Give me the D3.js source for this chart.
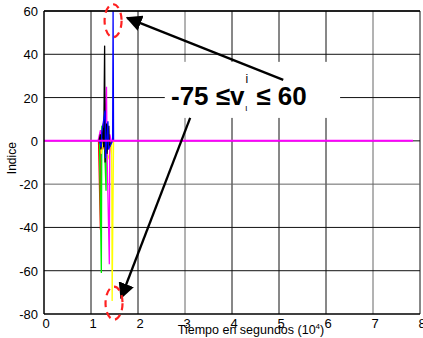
<!DOCTYPE html>
<html>
<head>
<meta charset="utf-8">
<script src="https://cdn.jsdelivr.net/npm/d3@7"></script>
<style>
  body { margin: 0; background: white; }
  svg { display: block; font-family: "Liberation Sans", Arial, sans-serif; }
</style>
</head>
<body>
<script>
var xTicks = [0, 1, 2, 3, 4, 5, 6, 7, 8];
var yTicks = [-80, -60, -40, -20, 0, 20, 40, 60];

// each series: time (10^4 s) and index value
var blackT = [1.17, 1.2, 1.21, 1.26, 1.27, 1.29, 1.3, 1.33, 1.34, 1.38, 1.39, 1.44];
var blackV = [0, 3, -4, 6, -3, 44, -10, 8, -6, 7, -3, 0];
var blueT = [1.18, 1.22, 1.23, 1.3, 1.31, 1.36, 1.37, 1.46, 1.47, 1.48];
var blueV = [0, -3, 4, 14, -8, 9, -4, 0, 60, 0];
var magentaT = [1.15, 1.2, 1.21, 1.26, 1.27, 1.33, 1.34, 1.39, 1.4, 1.43];
var magentaV = [0, 5, -3, 8, -2, 25, -4, -57, 3, 0];
var greenT = [1.18, 1.22, 1.23, 1.28, 1.32, 1.33, 1.38, 1.42];
var greenV = [0, -61, 7, 3, -23, 5, -3, 0];
var redT = [1.16, 1.2, 1.21, 1.25, 1.3, 1.35];
var redV = [0, -41, 5, -4, 3, 0];
var yellowT = [1.16, 1.2, 1.22, 1.27, 1.3, 1.38, 1.44, 1.45, 1.48];
var yellowV = [0, 4, -6, 3, -4, -8, 0, -74, 0];
var cyanT = [1.2, 1.25, 1.3, 1.35, 1.4];
var cyanV = [0, 3, -5, 4, 0];

var zeroT = [0, 7.85];
var zeroV = [0, 0];

var series = [
	{t: cyanT, v: cyanV, color: "#00e0e0"},
	{t: redT, v: redV, color: "#ff0000"},
	{t: greenT, v: greenV, color: "#00ee00"},
	{t: yellowT, v: yellowV, color: "#ffff00"},
	{t: magentaT, v: magentaV, color: "#ff00ff"},
	{t: blackT, v: blackV, color: "#000000"},
	{t: blueT, v: blueV, color: "#0000ff"}
];

var width = 423, height = 338;
var margin = {left: 44, right: 3, top: 11, bottom: 24};

var svg = d3.select("body").append("svg")
	.attr("width", width)
	.attr("height", height);

var x = d3.scaleLinear().domain([0, 8]).range([margin.left, width - margin.right]);
var y = d3.scaleLinear().domain([-80, 60]).range([height - margin.bottom, margin.top]);

// grid
var grid = svg.append("g").attr("class", "grid");
grid.selectAll(".vgrid")
	.data(xTicks.slice(1))
	.enter().append("line")
	.attr("x1", d => x(d)).attr("x2", d => x(d))
	.attr("y1", y(60)).attr("y2", y(-80))
	.attr("stroke", d => (d == 3 || d == 7) ? "#666" : "#111")
	.attr("stroke-width", 1);
grid.selectAll(".hgrid")
	.data(yTicks.slice(1))
	.enter().append("line")
	.attr("x1", x(0)).attr("x2", x(8))
	.attr("y1", d => y(d)).attr("y2", d => y(d))
	.attr("stroke", d => d == -20 ? "#666" : "#111")
	.attr("stroke-width", 1);

// data lines
var line = d3.line()
	.x(d => x(d[0]))
	.y(d => y(d[1]));

svg.append("g").selectAll("path")
	.data(series)
	.enter().append("path")
	.attr("d", s => line(s.t.map((t, i) => [t, s.v[i]])))
	.attr("fill", "none")
	.attr("stroke", s => s.color)
	.attr("stroke-width", 1.3);

svg.append("path")
	.attr("d", line(zeroT.map((t, i) => [t, zeroV[i]])))
	.attr("fill", "none")
	.attr("stroke", "#ff00ff")
	.attr("stroke-width", 2);

// axes frame
svg.append("line")
	.attr("x1", x(0)).attr("x2", x(0)).attr("y1", y(60)).attr("y2", y(-80))
	.attr("stroke", "black").attr("stroke-width", 1.5);
svg.append("line")
	.attr("x1", x(0)).attr("x2", x(8)).attr("y1", y(-80)).attr("y2", y(-80))
	.attr("stroke", "black").attr("stroke-width", 1.5);
svg.append("line")
	.attr("x1", x(0)).attr("x2", x(8)).attr("y1", y(60)).attr("y2", y(60))
	.attr("stroke", "black").attr("stroke-width", 1.5);

// tick labels
svg.append("g").selectAll("text")
	.data(xTicks)
	.enter().append("text")
	.attr("x", d => x(d) + 2)
	.attr("y", y(-80) + 14)
	.attr("text-anchor", "middle")
	.attr("font-size", 13)
	.text(d => d);
svg.append("g").selectAll("text")
	.data(yTicks)
	.enter().append("text")
	.attr("x", x(0) - 6)
	.attr("y", d => y(d) + 5)
	.attr("text-anchor", "end")
	.attr("font-size", 13)
	.text(d => d);

// axis titles
svg.append("text")
	.attr("transform", "translate(16," + y(-8) + ") rotate(-90)")
	.attr("text-anchor", "middle")
	.attr("font-size", 12)
	.text("Indice");

var xt = svg.append("text")
	.attr("x", 251)
	.attr("y", 334)
	.attr("text-anchor", "middle")
	.attr("font-size", 12.5);
xt.append("tspan").text("Tiempo en segundos (10");
xt.append("tspan").attr("font-size", 8).attr("dy", -5).text("4");
xt.append("tspan").attr("dy", 5).text(")");

// annotation box
svg.append("rect")
	.attr("x", x(2.57)).attr("y", y(36.5))
	.attr("width", x(6.3) - x(2.57)).attr("height", y(10.6) - y(36.5))
	.attr("fill", "white");

var defs = svg.append("defs");
defs.append("marker")
	.attr("id", "head")
	.attr("viewBox", "0 0 10 10")
	.attr("refX", 9).attr("refY", 5)
	.attr("markerWidth", 7).attr("markerHeight", 7)
	.attr("markerUnits", "strokeWidth")
	.attr("orient", "auto")
	.append("path")
	.attr("d", "M0,0 L10,5 L0,10 Z")
	.attr("fill", "black");

var arrows = [
	{from: [5.09, 28.2], to: [1.77, 56.8]},
	{from: [3.11, 10.6], to: [1.64, -72.5]}
];
svg.append("g").selectAll("line")
	.data(arrows)
	.enter().append("line")
	.attr("x1", d => x(d.from[0])).attr("y1", d => y(d.from[1]))
	.attr("x2", d => x(d.to[0])).attr("y2", d => y(d.to[1]))
	.attr("stroke", "black")
	.attr("stroke-width", 2.3)
	.attr("marker-end", "url(#head)");

// dashed red ellipses
var rings = [[1.47, 55.5], [1.49, -75]];
svg.append("g").selectAll("ellipse")
	.data(rings)
	.enter().append("ellipse")
	.attr("cx", d => x(d[0])).attr("cy", d => y(d[1]))
	.attr("rx", 8.5).attr("ry", 16.5)
	.attr("fill", "none")
	.attr("stroke", "#ff2020")
	.attr("stroke-width", 2.2)
	.attr("stroke-dasharray", "7,5");

// label
var lab = svg.append("text")
	.attr("x", 171)
	.attr("y", 105)
	.attr("fill", "black")
	.attr("font-size", 26)
	.attr("font-weight", "bold");
lab.append("tspan").text("-75 \u2264v");
lab.append("tspan").attr("fill", "black").attr("font-size", 12).attr("font-weight", "normal").attr("dy", -22).attr("dx", 1).text("i");
lab.append("tspan").attr("fill", "black").attr("font-size", 9).attr("font-weight", "normal").attr("dy", 28).attr("dx", -3).text("\u03b9");
lab.append("tspan").attr("dy", -6).attr("dx", 9).text("\u2264 60");
</script>
</body>
</html>
